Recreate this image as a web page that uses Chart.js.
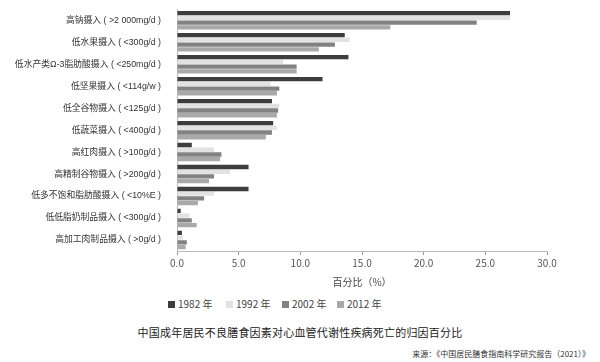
<!DOCTYPE html>
<html lang="zh">
<head>
<meta charset="UTF-8">
<title>归因百分比</title>
<script src="https://cdn.jsdelivr.net/npm/chart.js"></script>
<style>
    body { margin: 0; background: #fff; font-family: "Noto Sans CJK SC", sans-serif; }
    .wrap { position: relative; width: 600px; height: 362px; overflow: hidden; }
    #chart { position: absolute; left: 0; top: -4px; }
    .legend { position: absolute; top: 297px; left: 0; width: 600px; height: 14px; font-size: 10px; color: #444; }
    .legend span { position: absolute; top: 0; line-height: 14px; white-space: nowrap; }
    .legend i { display: inline-block; width: 7px; height: 7px; margin-right: 3px; vertical-align: 0px; }
    .title { position: absolute; top: 324px; left: 0; width: 600px; text-align: center; font-size: 11px; color: #222; letter-spacing: 0.2px; }
    .source { position: absolute; top: 348px; right: 10px; font-size: 8px; color: #333; }
</style>
</head>
<body>
<div class="wrap">
    <canvas id="chart" width="600" height="292"></canvas>
    <div class="legend" id="legend"></div>
    <div class="title">中国成年居民不良膳食因素对心血管代谢性疾病死亡的归因百分比</div>
    <div class="source">来源：《中国居民膳食指南科学研究报告（2021）》</div>
</div>
<script>
    const categories = [
        '高钠摄入 ( >2 000mg/d )',
        '低水果摄入 ( <300g/d )',
        '低水产类Ω-3脂肪酸摄入 ( <250mg/d )',
        '低坚果摄入 ( <114g/w )',
        '低全谷物摄入 ( <125g/d )',
        '低蔬菜摄入 ( <400g/d )',
        '高红肉摄入 ( >100g/d )',
        '高精制谷物摄入 ( >200g/d )',
        '低多不饱和脂肪酸摄入 ( <10%E )',
        '低低脂奶制品摄入 ( <300g/d )',
        '高加工肉制品摄入 ( >0g/d )'
    ];
    const years = ['1982 年', '1992 年', '2002 年', '2012 年'];
    const v1982 = [27.0, 13.6, 13.9, 11.8, 7.7, 7.8, 1.2, 5.8, 5.8, 0.3, 0.4];
    const v1992 = [27.0, 14.0, 8.6, 7.6, 8.3, 8.1, 3.0, 4.3, 3.0, 1.0, 0.5];
    const v2002 = [24.3, 12.8, 9.7, 8.3, 8.2, 7.7, 3.6, 3.0, 2.2, 1.2, 0.8];
    const v2012 = [17.3, 11.5, 9.7, 8.1, 8.1, 7.2, 3.5, 2.6, 1.7, 1.6, 0.7];
    const xTicks = [0, 5, 10, 15, 20, 25, 30];

    const colors = ['#3d3d3d', '#e2e2e2', '#828282', '#a9a9a9'];
    const series = [v1982, v1992, v2002, v2012];

    const datasets = series.map((vals, i) => ({
        label: years[i],
        data: vals,
        backgroundColor: colors[i],
        borderWidth: 0,
        categoryPercentage: 0.86,
        barPercentage: 0.92
    }));

    // 图例（HTML）
    const legendX = [168, 226, 282, 337];
    const legend = document.getElementById('legend');
    years.forEach((y, i) => {
        const s = document.createElement('span');
        s.style.left = legendX[i] + 'px';
        s.innerHTML = '<i style="background:' + colors[i] + '"></i>' + y;
        legend.appendChild(s);
    });

    const font = "'Noto Sans CJK SC', sans-serif";
    const labelFont = "'Liberation Sans', 'Noto Sans CJK SC', sans-serif";

    new Chart(document.getElementById('chart'), {
        type: 'bar',
        data: { labels: categories, datasets: datasets },
        options: {
            indexAxis: 'y',
            responsive: false,
            animation: false,
            layout: { padding: { left: 0, right: 53, top: 0, bottom: 0 } },
            plugins: {
                legend: { display: false },
                tooltip: { enabled: false }
            },
            scales: {
                x: {
                    min: 0,
                    max: 30,
                    afterBuildTicks: (scale) => { scale.ticks = xTicks.map(v => ({ value: v })); },
                    grid: { drawOnChartArea: false, drawTicks: true, tickLength: 4, color: '#999' },
                    border: { display: true, color: '#bbb' },
                    ticks: {
                        color: '#555',
                        font: { family: font, size: 10 },
                        padding: 2,
                        callback: (v) => Number(v).toFixed(1)
                    },
                    title: {
                        display: true,
                        text: '百分比（%）',
                        color: '#444',
                        font: { family: font, size: 10 },
                        padding: { top: 5, bottom: 0 }
                    }
                },
                y: {
                    afterFit: (scale) => { scale.width = 177; },
                    grid: { display: false },
                    border: { display: true, color: '#bbb' },
                    ticks: {
                        color: '#333',
                        font: { family: labelFont, size: 8.8 },
                        padding: 8
                    }
                }
            }
        }
    });
</script>
</body>
</html>
